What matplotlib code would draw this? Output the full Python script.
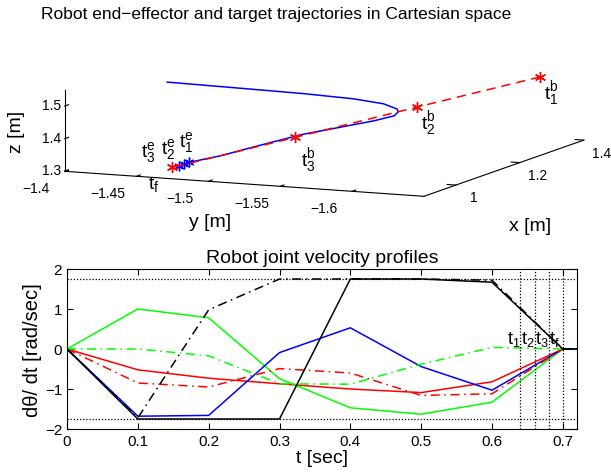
import matplotlib
matplotlib.use("Agg")
import matplotlib.pyplot as plt
from mpl_toolkits.mplot3d import proj3d
import numpy as np

plt.rcParams['font.family'] = ['Liberation Sans', 'DejaVu Sans']
plt.rcParams['mathtext.fontset'] = 'custom'
plt.rcParams['mathtext.rm'] = 'Liberation Sans'
plt.rcParams['mathtext.it'] = 'Liberation Sans'

# ---------------- data: 3D trajectories ----------------
target_x = [1.362, 1.220, 1.078, 0.936]
target_y = [-1.628, -1.574, -1.521, -1.467]
target_z = [1.50, 1.44, 1.38, 1.32]
target_labels = [r'$\mathregular{t_1^b}$', r'$\mathregular{t_2^b}$', r'$\mathregular{t_3^b}$', r'$\mathregular{t_f}$']

ee_x = [1.131, 1.123, 1.116, 1.103, 1.106, 1.099, 1.103, 1.095, 1.071, 1.060, 1.054, 1.007, 0.977, 0.970, 0.960, 0.947]
ee_y = [-1.420, -1.474, -1.518, -1.556, -1.576, -1.587, -1.587, -1.586, -1.577, -1.558, -1.531, -1.514, -1.492, -1.471, -1.470, -1.469]
ee_z = [1.50, 1.50, 1.50, 1.50, 1.49, 1.48, 1.47, 1.46, 1.45, 1.43, 1.40, 1.38, 1.35, 1.325, 1.322, 1.32]
ee_mark_x = [0.970, 0.960, 0.947]
ee_mark_y = [-1.471, -1.470, -1.469]
ee_mark_z = [1.325, 1.322, 1.32]
ee_labels = [r'$\mathregular{t_1^e}$', r'$\mathregular{t_2^e}$', r'$\mathregular{t_3^e}$']

x3_lim = [0.9, 1.4]
y3_lim = [-1.65, -1.4]
z3_lim = [1.3, 1.55]
x3_ticks = [1.0, 1.2, 1.4]
x3_ticklabels = ['1', '1.2', '1.4']
y3_ticks = [-1.6, -1.55, -1.5, -1.45, -1.4]
y3_ticklabels = ['\u22121.6', '\u22121.55', '\u22121.5', '\u22121.45', '\u22121.4']
z3_ticks = [1.3, 1.4, 1.5]
z3_ticklabels = ['1.3', '1.4', '1.5']

# ---------------- data: joint velocities ----------------
t = [0, 0.1, 0.2, 0.3, 0.4, 0.5, 0.6, 0.7, 0.72]
red_solid = [0, -0.52, -0.73, -0.87, -1.0, -1.09, -0.82, 0, 0]
green_solid = [0, 1.0, 0.78, -0.74, -1.47, -1.63, -1.33, 0, 0]
blue_solid = [0, -1.68, -1.66, -0.09, 0.53, -0.44, -1.03, 0, 0]
red_dashdot = [0, -0.85, -0.95, -0.49, -0.60, -1.16, -1.12, 0, 0]
green_dashdot = [0, 0.0, -0.17, -0.87, -0.88, -0.38, 0.04, 0, 0]
black_dashdot = [0, -1.72, 0.98, 1.75, 1.75, 1.75, 1.72, 0, 0]
black_solid = [0, -1.75, -1.75, -1.75, 1.75, 1.75, 1.67, 0, 0]
vel_limit = 1.75
switch_times = [0.64, 0.66, 0.68, 0.70]
switch_labels = [r'$\mathregular{t_1}$', r'$\mathregular{t_2}$', r'$\mathregular{t_3}$', r'$\mathregular{t_f}$']
x_ticks = [0, 0.1, 0.2, 0.3, 0.4, 0.5, 0.6, 0.7]
x_ticklabels = ['0', '0.1', '0.2', '0.3', '0.4', '0.5', '0.6', '0.7']
y_ticks = [-2, -1, 0, 1, 2]
y_ticklabels = ['\u22122', '\u22121', '0', '1', '2']

fig = plt.figure(figsize=(6.11, 4.77), dpi=100)

# ---------------- top: 3D ----------------
ax3 = fig.add_axes([0.026, 0.531, 1.0, 0.44], projection='3d')
ax3.set_proj_type('ortho')
ax3.view_init(elev=9, azim=-156)
ax3.set_box_aspect((1, 1, 0.21), zoom=2.6)
ax3.set_xlim(*x3_lim)
ax3.set_ylim(*y3_lim)
ax3.set_zlim(*z3_lim)
ax3.grid(False)
for axis in (ax3.xaxis, ax3.yaxis, ax3.zaxis):
    axis.set_pane_color((1, 1, 1, 0))
    axis.line.set_color('k')
    axis.line.set_linewidth(0.8)
    axis._axinfo['tick']['inward_factor'] = 0.0
    axis._axinfo['tick']['outward_factor'] = 0.3
    axis._axinfo['tick']['linewidth'] = {True: 0.8, False: 0.5}
ax3.set_xticks(x3_ticks)
ax3.set_xticklabels(x3_ticklabels, fontsize=10)
ax3.set_yticks(y3_ticks)
ax3.set_yticklabels(y3_ticklabels, fontsize=10)
ax3.set_zticks(z3_ticks)
ax3.set_zticklabels(z3_ticklabels, fontsize=10)
for tk in ax3.zaxis.get_major_ticks():
    tk.label1.set_verticalalignment('center')
# tick-label offsets in the MATLAB manner
ax3.xaxis.set_tick_params(pad=-4)
ax3.yaxis.set_tick_params(pad=6)
ax3.yaxis._axmask = lambda: [True, False, False]
ax3.zaxis.set_tick_params(pad=-5.1)
ax3.zaxis._axmask = lambda: [False, True, False]

ax3.plot(ee_x, ee_y, ee_z, color='blue', lw=1.1, clip_on=False)
ax3.plot(ee_mark_x, ee_mark_y, ee_mark_z, ls='none', marker=(6, 2, 0), color='blue',
         ms=7, mew=1.0, clip_on=False)
ax3.plot(target_x, target_y, target_z, color='red', ls=(0, (6, 4)), lw=1.1, clip_on=False)
ax3.plot(target_x, target_y, target_z, ls='none', marker=(6, 2, 0), color='red',
         ms=8, mew=1.0, clip_on=False)

M = ax3.get_proj()


def proj(xs, ys, zs):
    px, py, _ = proj3d.proj_transform(np.atleast_1d(np.array(xs, float)),
                                      np.atleast_1d(np.array(ys, float)),
                                      np.atleast_1d(np.array(zs, float)), M)
    return px, py


tgt_offsets = [(4, -1), (4, -1), (6, -8), (-24, -7)]
px, py = proj(target_x, target_y, target_z)
for xi, yi, lab, off in zip(px, py, target_labels, tgt_offsets):
    ax3.annotate(lab, xy=(xi, yi), xycoords='data', xytext=off, textcoords='offset pixels',
                 ha='left', va='top', fontsize=14, annotation_clip=False)
ee_offsets = [(-10, 33), (-23, 28), (-38, 27)]
px, py = proj(ee_mark_x, ee_mark_y, ee_mark_z)
for xi, yi, lab, off in zip(px, py, ee_labels, ee_offsets):
    ax3.annotate(lab, xy=(xi, yi), xycoords='data', xytext=off, textcoords='offset pixels',
                 ha='left', va='top', fontsize=14, annotation_clip=False)

# axis labels anchored to the box corners
cx, cy = proj([x3_lim[0]], [y3_lim[0]], [z3_lim[0]])
ax3.annotate('x [m]', xy=(cx[0], cy[0]), xytext=(106, -29), textcoords='offset pixels',
             ha='center', va='center', fontsize=14, annotation_clip=False)
ax3.annotate('y [m]', xy=(cx[0], cy[0]), xytext=(-214, -25), textcoords='offset pixels',
             ha='center', va='center', fontsize=14, annotation_clip=False)
zx, zy = proj([x3_lim[0]], [y3_lim[1]], [z3_lim[0]])
ax3.annotate('z [m]', xy=(zx[0], zy[0]), xytext=(-48, 40), textcoords='offset pixels',
             ha='center', va='center', rotation=90, fontsize=14, annotation_clip=False)

fig.text(276 / 611, 1 - 15 / 477, 'Robot end\u2212effector and target trajectories in Cartesian space',
         ha='center', va='center', fontsize=12.5)

# ---------------- bottom: velocities ----------------
ax = fig.add_axes([67 / 611, 1 - 430 / 477, 510 / 611, 160 / 477])
dd = (0, (6, 3, 1, 3))
ax.plot(t, red_solid, color='red', lw=1.1)
ax.plot(t, green_solid, color='#00ff00', lw=1.1)
ax.plot(t, blue_solid, color='blue', lw=1.1)
ax.plot(t, red_dashdot, color='red', lw=1.1, ls=dd)
ax.plot(t, green_dashdot, color='#00ff00', lw=1.1, ls=dd)
ax.plot(t, black_dashdot, color='black', lw=1.1, ls=dd)
ax.plot(t, black_solid, color='black', lw=1.1)
ax.axhline(vel_limit, color='k', ls=(0, (1, 1.5)), lw=0.9)
ax.axhline(-vel_limit, color='k', ls=(0, (1, 1.5)), lw=0.9)
for ts, lab in zip(switch_times, switch_labels):
    ax.axvline(ts, color='k', ls=(0, (1, 1.5)), lw=0.9)
    ax.text(ts - 0.019, 0.02, lab, ha='left', va='bottom', fontsize=13)
ax.set_xlim(0, 0.72)
ax.set_ylim(-2, 2)
ax.set_xticks(x_ticks)
ax.set_xticklabels(x_ticklabels, fontsize=11)
ax.set_yticks(y_ticks)
ax.set_yticklabels(y_ticklabels, fontsize=11)
ax.tick_params(direction='in', top=True, right=True, length=4, width=0.8)
for s in ax.spines.values():
    s.set_linewidth(0.8)
ax.set_xlabel('t [sec]', fontsize=14, labelpad=1)
ax.set_ylabel('d\u03b8/ dt [rad/sec]', fontsize=14.5, labelpad=2)
ax.set_title('Robot joint velocity profiles', fontsize=14, pad=5)

fig.savefig('out.png', dpi=100)
